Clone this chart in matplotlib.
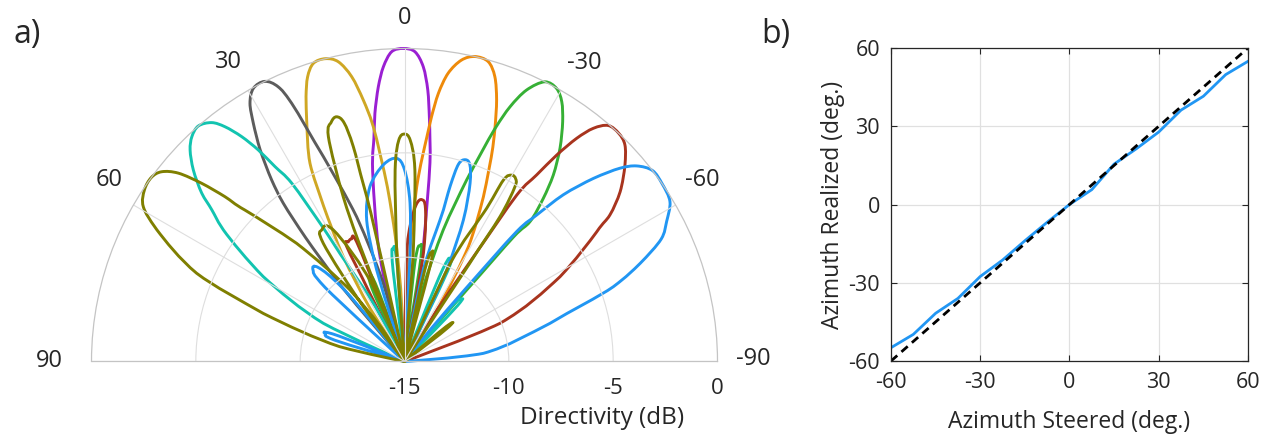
import numpy as np
import matplotlib.pyplot as plt
from matplotlib.path import Path
from matplotlib.patches import PathPatch

plt.rcParams['font.family'] = ['Open Sans', 'DejaVu Sans']
plt.rcParams['axes.unicode_minus'] = False

# ---- a) beam patterns: angle (deg), directivity (dB)
purple_th = [-12, -11, -9.3, -7.3, -6.5, -5.8, -4.9, -3.65, -1.94, 0.2, 2.37, 4.1, 5.45, 6.8,
             7.8, 9.2, 12.85, 14.8, 16]
purple_db = [-15, -12, -9.4, -5.4, -4.24, -3.21, -1.94, -0.85, -0.15, 0, -0.14, -0.84, -1.78, -3.02,
             -4.2, -5.4, -9.4, -12.3, -15]

orange_th = [-35, -32, -29.1, -25.6, -22.4, -21.1, -19.4, -17.6, -15.6, -13.0, -10.7, -8.6, -7.2,
             -6.3, -5.7, -4.0, -2.4, -1]
orange_db = [-15, -11.8, -8.7, -6.25, -3.89, -2.94, -1.71, -0.68, -0.08, 0, -0.3, -1.03, -2.05,
             -3.2, -4.17, -6.6, -10.6, -15]

gold_th = [1.5, 3.0, 4.2, 5.6, 7.57, 8.95, 10.5, 12.45, 14.65, 17.0, 18.8, 20.4, 22.3, 25.5,
           27.5, 30.3, 33, 35]
gold_db = [-15, -11.5, -9, -6.6, -3.65, -2.32, -1.12, -0.29, 0, -0.06, -0.59, -1.46, -2.66, -4.48,
           -6.6, -9.18, -12, -15]

green_th = [-40, -41.0, -41.2, -41.9, -40.4, -38.6, -36.1, -33.4, -31.2, -29.1, -26.66, -24.2,
            -22.5, -21.2, -18.9, -16.4, -14, -12.5, -10.5, -9, -7.6, -6, -4.5,
            18, 20.5, 22.1, 24, 26]
green_db = [-15, -10.46, -7.07, -6.0, -4.74, -3.57, -2.35, -1.23, -0.45, -0.02, 0, -0.74,
            -1.79, -3.06, -5.8, -8.43, -11.5, -15, -15, -10, -9.4, -10.2, -15,
            -15, -11, -10.6, -11.2, -15]

gray_th = [13, 15.2, 18.3, 21.6, 23.6, 24.7, 26.5, 28.96, 30.9, 32.4, 34.3, 36.2, 37.45, 38.6,
           40.0, 42]
gray_db = [-15, -11.1, -7.7, -4.44, -1.5, -0.51, 0, -0.04, -0.58, -1.48, -2.73, -4.22, -5.45, -7.4,
           -10.2, -15]

red_th = [-72, -68.2, -61.4, -56.0, -54.5, -51.8, -48.3, -45.5, -43.2, -40.8, -39.0, -37.65,
          -36.4, -35.3, -34.0, -33.4, -32.3, -31,
          -12.5, -9.9, -7.8, -6.1, -4.3, -2.5, -1.2, 0.5, 18.5, 21.1, 21.8, 23.4, 25.1, 26.7, 27, 29]
red_db = [-15, -10.07, -6.51, -3.89, -2.91, -1.85, -0.85, -0.19, 0, -0.06, -0.62, -1.49,
          -2.71, -4.05, -5.38, -8.9, -12, -15,
          -15, -9.7, -7.6, -7.2, -7.45, -8.4, -9.8, -15, -15, -12.2, -8.82, -8.6, -8.66, -8.84, -11.3, -15]

cyan_th = [-45, -43.5, -42, -40.5, -38.5, -27, -25.5, -24.1, -22.5, -20.5, 2.5, 4.5, 5.7, 7, 9,
           26, 28, 30.5, 31.3, 32.3, 33.6, 34.65, 35.9, 37.4, 38.9, 41.2, 43.4, 45.4, 47.8, 50.3,
           51.8, 54.0, 59.0, 64.8, 68]
cyan_db = [-15, -11.3, -11.0, -11.5, -15, -15, -10.2, -9.67, -10.2, -15, -15, -10, -9.6, -10.2, -15,
           -15, -12, -9.54, -7.5, -4.9, -3.79, -2.68, -1.7, -0.84, -0.29, 0, -0.17, -0.57, -1.34, -2.37,
           -3.25, -4.27, -7.1, -10.7, -15]

blue_th = [-89, -84.1, -75.3, -70.3, -67.4, -64.5, -61.9, -58.95, -55.4, -52.4, -49.9, -48.1,
           -45.9, -43.6, -42.06, -40.8, -40, -39, -38.5,
           -28, -24.8, -22.6, -20.2, -18.4, -16.8, -15.3, -14.6, -14.1, -11.6, -9.5,
           -4, -3, -2, 0, 2.2, 6, 11.2, 15, 16.9, 18.5, 37, 40, 42.5, 45, 47, 49,
           66, 69, 71, 73, 75]
blue_db = [-15, -11.2, -7.79, -4.37, -2.77, -1.37, -0.76, -0.15, 0, 0, -0.45, -1.13,
           -2.39, -3.97, -5.55, -6.78, -10.46, -13, -15,
           -15, -10.2, -7.66, -5.9, -5.07, -4.9, -5.2, -6.3, -8.0, -10.5, -15,
           -15, -10, -7.4, -5.8, -5.26, -5.5, -6.46, -8.0, -10.4, -15, -15, -10.5, -8.9, -8.8, -9.8, -15,
           -15, -11.3, -11.0, -11.5, -15]

olive_th = [-55, -52, -50, -48, -35, -33.6, -33.4, -32.3, -31.3, -29.9, -28.6, -28, -25, -23,
            -16.5, -15, -13.9, -12.5, -11, -6.5, -4.6, -3.1, -1.5, 0, 1.5, 2.8, 4.1, 6,
            10.5, 12.9, 13.4, 14.2, 15.5, 17.0, 18.7, 20.4, 21, 21.5,
            21.8, 22.6, 28.4, 32.2, 34.5, 36.9, 38,
            33, 34.5, 37.3, 42.4, 46.5, 47.45, 48.7, 50.2, 52.0, 54.0, 56.6, 59.35, 62.0, 67.0,
            71.2, 77.1, 80]
olive_db = [-15, -12.3, -12.4, -15, -15, -9.4, -6.7, -5.1, -4.75, -4.7, -5.1, -6.96, -9.8, -15,
            -15, -10.2, -9.6, -10.5, -15, -15, -9.8, -5.8, -4.4, -4.1, -4.4, -5.8, -9.8, -15,
            -15, -6.9, -4.42, -3.2, -2.83, -3.0, -3.62, -6.58, -9, -15,
            -15, -11.1, -7.84, -7.55, -8.13, -11.7, -15,
            -15, -13, -10.7, -7.33, -4.46, -3.32, -2.06, -0.9, -0.23, 0, -0.07, -0.45, -1.56, -4.18,
            -7.85, -11.8, -15]

beams = [(purple_th, purple_db, '#9a1fd2'), (orange_th, orange_db, '#ee8a0a'),
         (gold_th, gold_db, '#cfa724'), (green_th, green_db, '#36b035'),
         (gray_th, gray_db, '#5c5c5c'), (red_th, red_db, '#a8341e'),
         (cyan_th, cyan_db, '#12c4b0'), (blue_th, blue_db, '#2196f3'),
         (olive_th, olive_db, '#7f7f00')]

theta_ticks = [90, 60, 30, 0, -30, -60, -90]
r_ticks = [-15, -10, -5, 0]

# ---- b) steering accuracy
steered = [-60, -52.5, -45, -37.5, -30, -22.5, -15, -7.5, 0, 7.5, 15, 22.5, 30, 37.5, 45, 52.5, 60]
realized = [-54.9, -49.8, -41.7, -36.0, -27.6, -21.3, -13.9, -6.8, 0, 5.7, 15.5, 21.4, 27.8,
            36.2, 41.5, 49.8, 54.9]
ideal = [-60, 60]


def smooth_path(th, db, rmin=-15.0, rmax=0.1):
  # bezier curve through the traced points (catmull-rom handles)
  p = np.column_stack([np.deg2rad(th), db])
  n = len(p)
  verts = [p[0]]
  codes = [Path.MOVETO]
  for i in range(n - 1):
    p0 = p[max(i - 1, 0)]
    p1 = p[i]
    p2 = p[i + 1]
    p3 = p[min(i + 2, n - 1)]
    c1 = p1 + (p2 - p0) / 6.0
    c2 = p2 - (p3 - p1) / 6.0
    if p1[1] <= rmin:
      c1 = p1.copy()
    if p2[1] <= rmin:
      c2 = p2.copy()
    c1[1] = np.clip(c1[1], rmin, rmax)
    c2[1] = np.clip(c2[1], rmin, rmax)
    verts += [c1, c2, p2]
    codes += [Path.CURVE4] * 3
  return Path(np.array(verts), codes)


fig = plt.figure(figsize=(12.7, 4.34), dpi=100)

# square box, the half disc is centred in it
axp = fig.add_axes([0.07205, -0.19355, 0.49291, 1.44240], projection='polar')
axp.set_theta_zero_location('N')
axp.set_thetamin(-90)
axp.set_thetamax(90)
axp.set_rlim(-15, 0)
axp.set_xticks(np.deg2rad(theta_ticks))
axp.set_xticklabels([])
axp.set_yticks([-10, -5])
axp.set_yticklabels([])
axp.tick_params(length=0)
axp.grid(color='#dedede', lw=0.8)
for s in ['polar', 'start', 'end']:
  axp.spines[s].set_color('#c4c4c4')
  axp.spines[s].set_linewidth(0.9)

for th, db, c in beams:
  axp.add_patch(PathPatch(smooth_path(th, db), fill=False, edgecolor=c, lw=2.1, clip_on=False,
                          capstyle='round', joinstyle='round', transform=axp.transData))

# angle labels sit a little outside the rim
lab_pos = {90: (90, 2.0), 60: (58.4, 1.6), 30: (30.5, 1.66), 0: (0, 1.46),
           -30: (-31.1, 1.68), -60: (-58.7, 1.72), -90: (-89.6, 1.7)}
for t in theta_ticks:
  a, r = lab_pos[t]
  axp.text(np.deg2rad(a), r, str(t), ha='center', va='center', fontsize=17,
           color='#262626', clip_on=False)
for r in r_ticks:
  axp.annotate(str(r), xy=(np.deg2rad(-90), r), xytext=(0, -27), textcoords='offset pixels',
               ha='center', va='center', fontsize=16, color='#262626', annotation_clip=False)
fig.text(602.5/1270, 1-418/434, 'Directivity (dB)', ha='center', va='center', fontsize=17.5,
         color='#262626')
fig.text(27/1270, 1-34/434, 'a)', ha='center', va='center', fontsize=23, color='#262626')
fig.text(776/1270, 1-34/434, 'b)', ha='center', va='center', fontsize=23, color='#262626')

axb = fig.add_axes([0.70157, 0.16820, 0.28110, 0.72120])
axb.plot(steered, realized, color='#2196f3', lw=2.0)
axb.plot(ideal, ideal, color='black', lw=2.0, dashes=(3, 2))
axb.set_xlim(-60, 60)
axb.set_ylim(-60, 60)
axb.set_xticks([-60, -30, 0, 30, 60])
axb.set_yticks([-60, -30, 0, 30, 60])
axb.grid(color='#e0e0e0', lw=0.9)
axb.tick_params(direction='in', length=4, width=0.8, top=True, right=True,
                labelsize=15.5, colors='#262626', pad=8)
for s in axb.spines.values():
  s.set_color('#262626')
  s.set_linewidth(0.9)
axb.set_xlabel('Azimuth Steered (deg.)', fontsize=16.5, color='#262626', labelpad=12.5)
axb.set_ylabel('Azimuth Realized (deg.)', fontsize=16.5, color='#262626', labelpad=2)

fig.savefig('out.png', dpi=100)
